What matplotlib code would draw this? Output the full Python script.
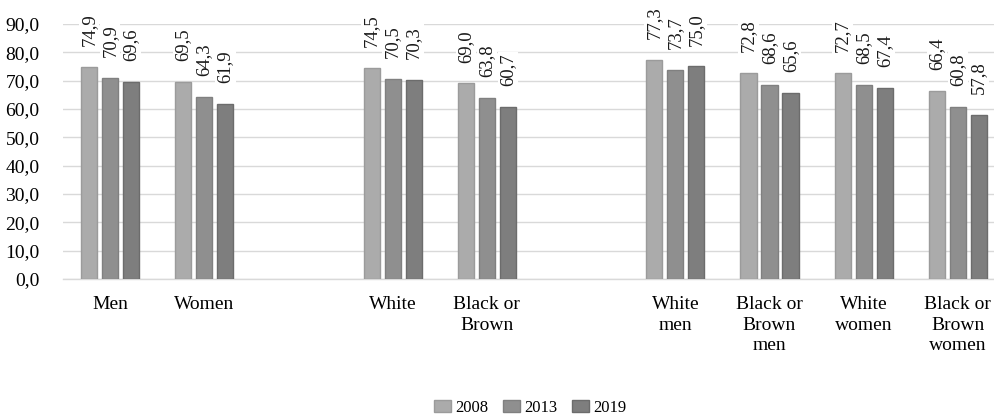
import numpy as np
import matplotlib
matplotlib.use("Agg")
import matplotlib.pyplot as plt

plt.rcParams['font.family'] = ['Liberation Serif', 'DejaVu Serif']

# categories (slots with a gap between the three blocks)
categories = ["Men", "Women",
              "White", "Black or\nBrown",
              "White\nmen", "Black or\nBrown\nmen", "White\nwomen", "Black or\nBrown\nwomen"]
slots = [0, 1, 3, 4, 6, 7, 8, 9]

years = ["2008", "2013", "2019"]
v2008 = [74.9, 69.5, 74.5, 69.0, 77.3, 72.8, 72.7, 66.4]
v2013 = [70.9, 64.3, 70.5, 63.8, 73.7, 68.6, 68.5, 60.8]
v2019 = [69.6, 61.9, 70.3, 60.7, 75.0, 65.6, 67.4, 57.8]

fills = ["#ababab", "#8f8f8f", "#7e7e7e"]
edges = ["#9b9b9b", "#808080", "#6c6c6c"]

fig = plt.figure(figsize=(9.94, 4.15), dpi=100)
ax = fig.add_axes([63 / 994, 1 - 279 / 415, 942 / 994, 255 / 415])

x = np.array(slots, dtype=float)
w = 0.17
step = 0.223
for i, (vals, yr) in enumerate(zip([v2008, v2013, v2019], years)):
    bars = ax.bar(x + (i - 1) * step, vals, width=w, color=fills[i],
                  edgecolor=edges[i], linewidth=1, label=yr, zorder=3)
    for b, v in zip(bars, vals):
        ax.annotate(f"{v:.1f}".replace(".", ","),
                    (b.get_x() + b.get_width() / 2, v),
                    xytext=(0, 15), textcoords="offset points",
                    rotation=90, ha="center", va="bottom", fontsize=13.5,
                    color="#1a1a1a", annotation_clip=False, zorder=4,
                    bbox=dict(boxstyle="square,pad=0.1", fc="white", ec="none"))

ax.set_xlim(-0.5, 9.5)
ax.set_ylim(0, 90)
ax.set_yticks(np.arange(0, 91, 10))
ax.set_yticklabels([f"{t:.1f}".replace(".", ",") for t in np.arange(0, 91, 10)])
ax.set_xticks(x)
ax.set_xticklabels(categories, linespacing=1.3)
ax.tick_params(axis="y", length=0, pad=17, labelsize=14)
ax.tick_params(axis="x", length=0, pad=12, labelsize=14)
ax.grid(axis="y", color="#d9d9d9", linewidth=1, zorder=0)
for s in ["top", "right", "left"]:
    ax.spines[s].set_visible(False)
ax.spines["bottom"].set_color("#d9d9d9")
ax.spines["bottom"].set_linewidth(1)

leg = fig.legend(loc="center", bbox_to_anchor=(530 / 994, 1 - 408 / 415), ncol=3,
                 frameon=False, fontsize=12, handlelength=1.0, handleheight=0.7,
                 handletextpad=0.25, columnspacing=0.9)

fig.savefig("out.png", dpi=100)
